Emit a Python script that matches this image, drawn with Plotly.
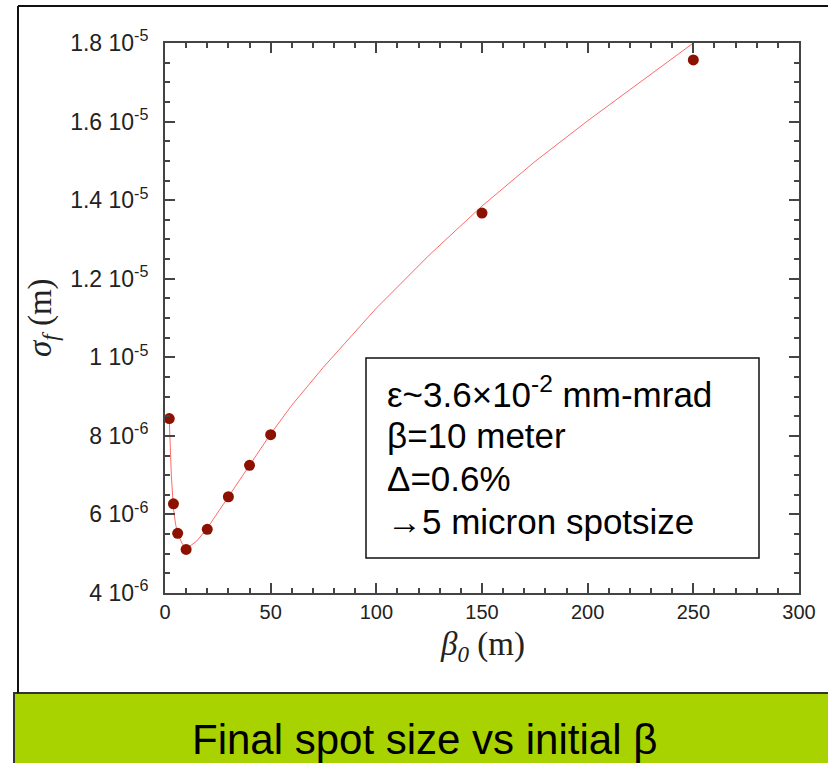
import plotly.graph_objects as go

# measured data points
beta0 = [2, 4, 6, 10, 20, 30, 40, 50, 150, 250]
sigma_f = [8.44e-6, 6.27e-6, 5.52e-6, 5.11e-6, 5.62e-6, 6.45e-6, 7.25e-6, 8.03e-6, 1.367e-5, 1.757e-5]

# fitted curve
fit_beta0 = [2, 3, 4, 5, 6, 8, 10, 15, 20, 30, 40, 50, 60, 75, 100, 125, 150, 175, 200, 225, 250]
fit_sigma = [8.44e-6, 7.0e-6, 6.15e-6, 5.75e-6, 5.52e-6, 5.27e-6, 5.12e-6, 5.32e-6, 5.65e-6,
             6.45e-6, 7.25e-6, 8.05e-6, 8.78e-6, 9.75e-6, 1.125e-5, 1.26e-5, 1.385e-5,
             1.498e-5, 1.602e-5, 1.702e-5, 1.80e-5]

y_tick_vals = [4e-6, 6e-6, 8e-6, 1e-5, 1.2e-5, 1.4e-5, 1.6e-5, 1.8e-5]
y_tick_text = ["4 10<sup>-6</sup>", "6 10<sup>-6</sup>", "8 10<sup>-6</sup>", "1 10<sup>-5</sup>",
               "1.2 10<sup>-5</sup>", "1.4 10<sup>-5</sup>", "1.6 10<sup>-5</sup>", "1.8 10<sup>-5</sup>"]
x_tick_vals = [0, 50, 100, 150, 200, 250, 300]

box_lines = ["ε~3.6×10<sup>-2</sup> mm-mrad", "β=10 meter", "Δ=0.6%", "→5 micron spotsize"]
caption = "Final spot size vs initial β"

W, H = 828, 763
L, R, T, B = 165, 799, 43, 593


def px(x):
    return (x - L) / (R - L)


def py(y):
    return (B - y) / (B - T)


fig = go.Figure()
fig.add_trace(go.Scatter(x=fit_beta0, y=fit_sigma, mode="lines",
                         line=dict(color="#ff6a6a", width=1),
                         hoverinfo="skip", showlegend=False))
fig.add_trace(go.Scatter(x=beta0, y=sigma_f, mode="markers",
                         marker=dict(color="#8c1100", size=11), showlegend=False))

axis_common = dict(showline=True, linecolor="#444", linewidth=2, mirror="ticks",
                   ticks="inside", ticklen=10, tickwidth=1.5, tickcolor="#444",
                   showgrid=False, zeroline=False)

fig.update_xaxes(range=[0, 300], tickvals=x_tick_vals,
                 minor=dict(ticks="inside", ticklen=5, dtick=10, tickcolor="#444", tickwidth=1.5),
                 tickfont=dict(family="Liberation Sans, Arial", size=20, color="#222"),
                 **axis_common)
fig.update_yaxes(range=[4e-6, 1.8e-5], tickvals=y_tick_vals, ticktext=y_tick_text,
                 minor=dict(ticks="inside", ticklen=5, dtick=5e-7, tickcolor="#444", tickwidth=1.5),
                 tickfont=dict(family="Liberation Sans, Arial", size=23, color="#222"),
                 ticklabelstandoff=10, **axis_common)

shapes = [
    # outer frame lines
    dict(type="line", xref="paper", yref="paper", x0=px(18), x1=px(830), y0=py(6), y1=py(6),
         line=dict(color="#111", width=2)),
    dict(type="line", xref="paper", yref="paper", x0=px(18), x1=px(18), y0=py(6), y1=py(693),
         line=dict(color="#111", width=2)),
    # green caption band
    dict(type="rect", xref="paper", yref="paper", x0=px(14), x1=px(832), y0=py(693), y1=py(770),
         fillcolor="#a9d300", line=dict(color="#333", width=2), layer="below"),
    # info box
    dict(type="rect", xref="paper", yref="paper", x0=px(366), x1=px(759), y0=py(358), y1=py(558),
         fillcolor="white", line=dict(color="#111", width=1.5)),
]

annotations = []
for i, t in enumerate(box_lines):
    annotations.append(dict(text=t, xref="paper", yref="paper", x=px(385), y=py(392 + 43.3 * i),
                            xanchor="left", yanchor="middle", showarrow=False,
                            font=dict(family="Liberation Sans, Arial", size=35, color="black")))

annotations.append(dict(text=caption, xref="paper", yref="paper", x=px(424), y=py(739),
                        xanchor="center", yanchor="middle", showarrow=False,
                        font=dict(family="Liberation Sans, Arial", size=42, color="black")))
annotations.append(dict(text="<i>σ</i><sub><i>f</i></sub> (m)", xref="paper", yref="paper",
                        x=px(42), y=py(318), textangle=-90, xanchor="center", yanchor="middle",
                        showarrow=False,
                        font=dict(family="Liberation Serif, Times New Roman", size=33, color="#222")))
annotations.append(dict(text="<i>β</i><sub><i>0</i></sub> (m)", xref="paper", yref="paper",
                        x=px(482), y=py(646), xanchor="center", yanchor="middle", showarrow=False,
                        font=dict(family="Liberation Serif, Times New Roman", size=33, color="#222")))

fig.update_layout(width=W, height=H, margin=dict(l=L, r=W - R, t=T, b=H - B, autoexpand=False),
                  plot_bgcolor="white", paper_bgcolor="white",
                  shapes=shapes, annotations=annotations, showlegend=False)

fig.write_html("out.html", config={"displayModeBar": False},
               post_script="document.body.style.margin='0px';document.body.style.overflow='hidden';")
